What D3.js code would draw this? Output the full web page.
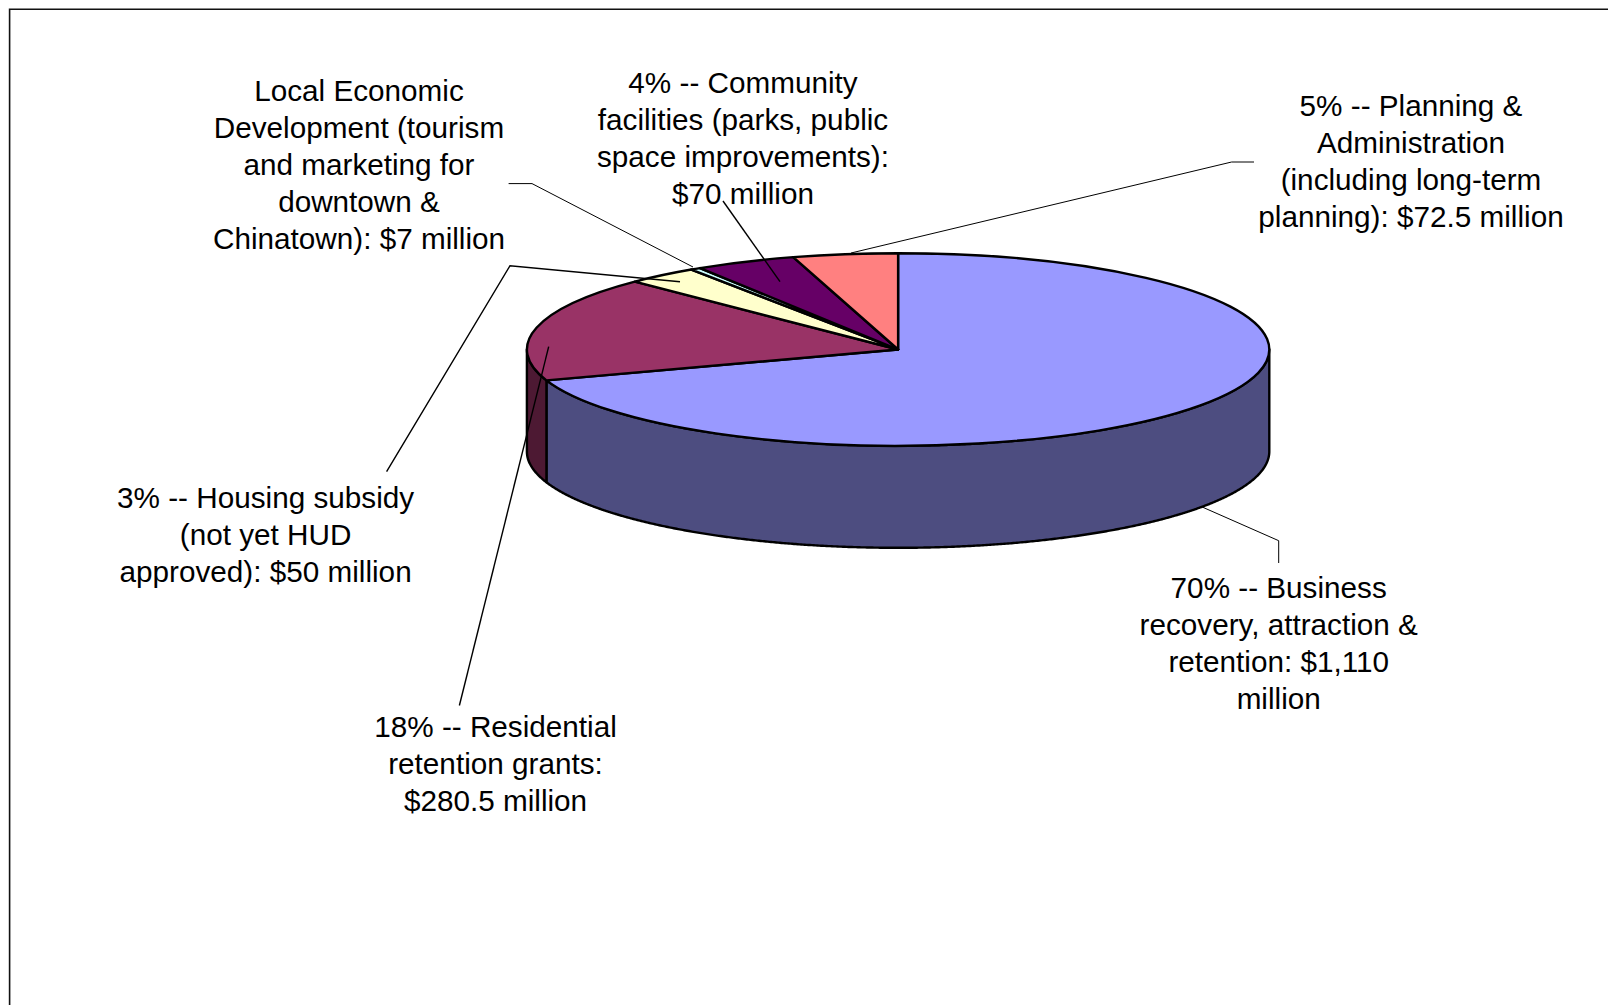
<html>
<head>
<meta charset="utf-8">
<title>Rebuilding funds pie</title>
<script src="https://d3js.org/d3.v7.min.js"></script>
<style>
body { margin: 0; background: #fff; }
text { font-family: "Liberation Sans", Arial, sans-serif; font-size: 29.7px; fill: #000; text-anchor: middle; }
</style>
</head>
<body>
<script>
// $ million, clockwise from 12 o'clock
var categories = ['Business', 'Residential', 'Housing', 'Local Economic', 'Community', 'Planning'];
var amounts = [1110, 280.5, 50, 7, 70, 72.5];
var topColors = ['#9999ff', '#993366', '#ffffcc', '#ccffff', '#660066', '#ff8080'];
var sideColors = ['#4d4d80', '#4d1933', '#808066', '#668080', '#330033', '#804040'];

var labelLines = [
  ['70% -- Business', 'recovery, attraction &', 'retention: $1,110', 'million'],
  ['18% -- Residential', 'retention grants:', '$280.5 million'],
  ['3% -- Housing subsidy', '(not yet HUD', 'approved): $50 million'],
  ['Local Economic', 'Development (tourism', 'and marketing for', 'downtown &', 'Chinatown): $7 million'],
  ['4% -- Community', 'facilities (parks, public', 'space improvements):', '$70 million'],
  ['5% -- Planning &', 'Administration', '(including long-term', 'planning): $72.5 million']
];

// layout, in page pixels
var width = 1608, height = 1005;
var cx = 898.1, cy = 349.5, rx = 371.2, ry = 96.3, depth = 102;
var lineGap = 37;
var labelX = [1278.7, 495.5, 265.6, 359, 743, 1411];
var labelY = [597.7, 737.3, 507.8, 100.6, 93.3, 116];
var leaders = [
  [[1201.5, 506.7], [1278.7, 540.7], [1278.7, 563]],
  [[459.4, 705.5], [548.7, 346.7]],
  [[386.6, 471.7], [510, 265.7], [680, 281.7]],
  [[508.6, 183.6], [532, 183.6], [693, 267]],
  [[723, 201], [780, 281.7]],
  [[1254, 162], [1231.6, 162], [851, 253]]
];
var leaderWidth = [1, 1.4, 1.4, 1, 1.4, 1];

var svg = d3.select('body').append('svg')
  .attr('width', width).attr('height', height)
  .style('display', 'block');

// frame: only the top and left edges are in the picture
svg.append('path')
  .attr('d', 'M' + width + ',9.2H9.6V' + height)
  .attr('fill', 'none').attr('stroke', '#111').attr('stroke-width', 1.6);

var pie = d3.pie().sort(null).startAngle(0).endAngle(2 * Math.PI);
var slices = pie(amounts);

var arc = d3.arc().innerRadius(0).outerRadius(rx);
var line = d3.line();

function rim(a, dy) {
  return [cx + rx * Math.sin(a), cy - ry * Math.cos(a) + dy];
}

// walls: only the part of each slice facing the viewer
function wall(d) {
  var a0 = Math.max(d.startAngle, Math.PI / 2),
      a1 = Math.min(d.endAngle, 3 * Math.PI / 2);
  if (a1 <= a0) return null;
  var steps = d3.range(a0, a1, 0.005).concat([a1]);
  var upper = steps.map(function(a) { return rim(a, 0); });
  var lower = steps.slice().reverse().map(function(a) { return rim(a, depth); });
  return line(upper.concat(lower)) + 'Z';
}

svg.append('g').selectAll('path')
  .data(slices.filter(function(d) { return wall(d); }))
  .enter().append('path')
  .attr('d', wall)
  .attr('fill', function(d) { return sideColors[d.index]; })
  .attr('stroke', '#000').attr('stroke-width', 2.4).attr('stroke-linejoin', 'round');

svg.append('g')
  .attr('transform', 'translate(' + cx + ',' + cy + ') scale(1,' + (ry / rx) + ')')
  .selectAll('path')
  .data(slices)
  .enter().append('path')
  .attr('d', arc)
  .attr('fill', function(d) { return topColors[d.index]; })
  .attr('stroke', '#000').attr('stroke-width', 2.4).attr('stroke-linejoin', 'round')
  .attr('vector-effect', 'non-scaling-stroke');

svg.append('g').selectAll('path')
  .data(leaders)
  .enter().append('path')
  .attr('d', function(d) { return line(d); })
  .attr('fill', 'none').attr('stroke', '#000')
  .attr('stroke-width', function(d, i) { return leaderWidth[i]; });

var labels = svg.append('g').selectAll('text')
  .data(categories)
  .enter().append('text')
  .attr('data-category', function(d) { return d; })
  .attr('y', function(d, i) { return labelY[i]; });

labels.selectAll('tspan')
  .data(function(d, i) { return labelLines[i].map(function(t) { return { t: t, i: i }; }); })
  .enter().append('tspan')
  .attr('x', function(d) { return labelX[d.i]; })
  .attr('dy', function(d, j) { return j ? lineGap : 0; })
  .text(function(d) { return d.t; });
</script>
</body>
</html>
